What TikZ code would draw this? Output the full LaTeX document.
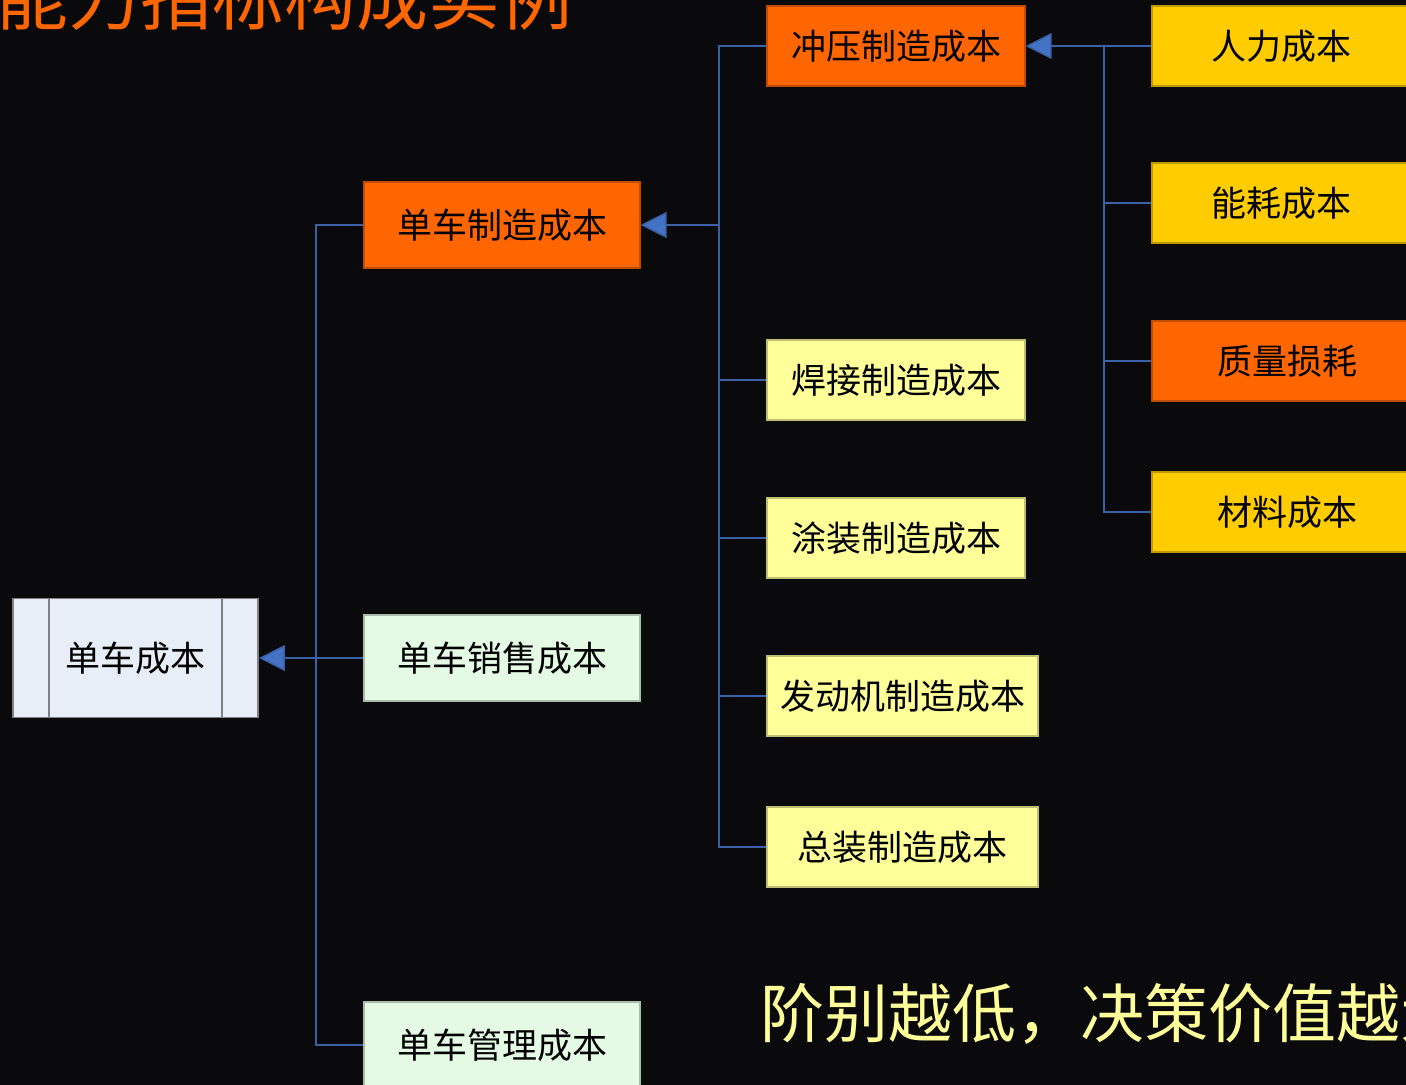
\documentclass[tikz,border=0pt]{standalone}
\usepackage{fontspec}
\newfontfamily\song{Noto Sans CJK SC}
\newfontfamily\hei{Noto Sans CJK SC}
\usetikzlibrary{arrows.meta}

\definecolor{bgdark}{HTML}{0A0A0C}
\definecolor{costorange}{HTML}{FF6600}
\definecolor{costgold}{HTML}{FFCC00}
\definecolor{costyellow}{HTML}{FFFF99}
\definecolor{costgreen}{HTML}{E4FAE4}
\definecolor{costblue}{HTML}{E8EEF8}
\definecolor{linkblue}{HTML}{4472C4}

\begin{document}
\begin{tikzpicture}[x=0.5pt,y=-0.5pt,
  box/.style={rectangle,inner sep=0pt,fill=#1,draw=#1!75!black,line width=0.6pt,
    text=black,font=\song\fontsize{17.5}{20}\selectfont},
  top/.style={minimum width=138pt,minimum height=43pt},
  mid/.style={minimum width=129pt,minimum height=40pt},
  link/.style={draw=linkblue!85!black,line width=0.75pt},
  feed/.style={link,-{Triangle[length=13pt,width=13pt,fill=linkblue]}}]

  \useasboundingbox (0,0) rectangle (1406,1085);
  \clip (0,0) rectangle (1406,1085);
  \fill[bgdark] (0,0) rectangle (1406,1085);

  % headings
  \node[anchor=base west,inner sep=0pt,text=costorange,
    font=\hei\fontsize{36}{40}\selectfont] (title) at (-4,25) {能力指标构成实例};
  \node[anchor=base west,inner sep=0pt,text=costyellow,
    font=\hei\fontsize{32}{36}\selectfont] (note) at (760,1037) {阶别越低，决策价值越大};

  % root
  \node[box=costblue,draw=gray,line width=0.9pt,minimum width=122.5pt,
    minimum height=59.5pt] (unit) at (135.5,658) {单车成本};
  \draw[gray,line width=0.9pt] ([xshift=18.5pt]unit.north west) -- ([xshift=18.5pt]unit.south west)
    ([xshift=-18.5pt]unit.north east) -- ([xshift=-18.5pt]unit.south east);

  % first level
  \node[box=costorange,top] (make) at (502,225) {单车制造成本};
  \node[box=costgreen,top] (sale) at (502,658) {单车销售成本};
  \node[box=costgreen,top] (mgmt) at (502,1045) {单车管理成本};

  % second level
  \node[box=costorange,mid] (stamp) at (896,46) {冲压制造成本};
  \node[box=costyellow,mid] (weld) at (896,380) {焊接制造成本};
  \node[box=costyellow,mid] (paint) at (896,538) {涂装制造成本};
  \node[box=costyellow,mid,minimum width=135.5pt] (engine) at (902.5,696) {发动机制造成本};
  \node[box=costyellow,mid,minimum width=135.5pt] (final) at (902.5,847) {总装制造成本};

  % third level
  \node[box=costgold,mid] (labor) at (1281,46) {人力成本};
  \node[box=costgold,mid] (energy) at (1281,203) {能耗成本};
  \node[box=costorange,mid,minimum width=135pt] (quality) at (1287,361) {质量损耗};
  \node[box=costgold,mid,minimum width=135pt] (material) at (1287,512) {材料成本};

  % bus lines
  \coordinate (bus1) at (316,0);
  \coordinate (bus2) at (719,0);
  \coordinate (bus3) at (1104,0);

  \draw[feed] (sale.west) -- (unit.east);
  \draw[link] (make.west) -| (bus1 |- mgmt.west) -- (mgmt.west);

  \draw[feed] (bus2 |- make.east) -- (make.east);
  \draw[link] (stamp.west) -| (bus2 |- final.west) -- (final.west);
  \foreach \n in {weld,paint,engine}
    \draw[link] (\n.west) -- (bus2 |- \n.west);

  \draw[feed] (labor.west) -- (stamp.east);
  \draw[link] (bus3 |- labor.west) |- (material.west);
  \foreach \n in {energy,quality}
    \draw[link] (\n.west) -- (bus3 |- \n.west);
\end{tikzpicture}
\end{document}
